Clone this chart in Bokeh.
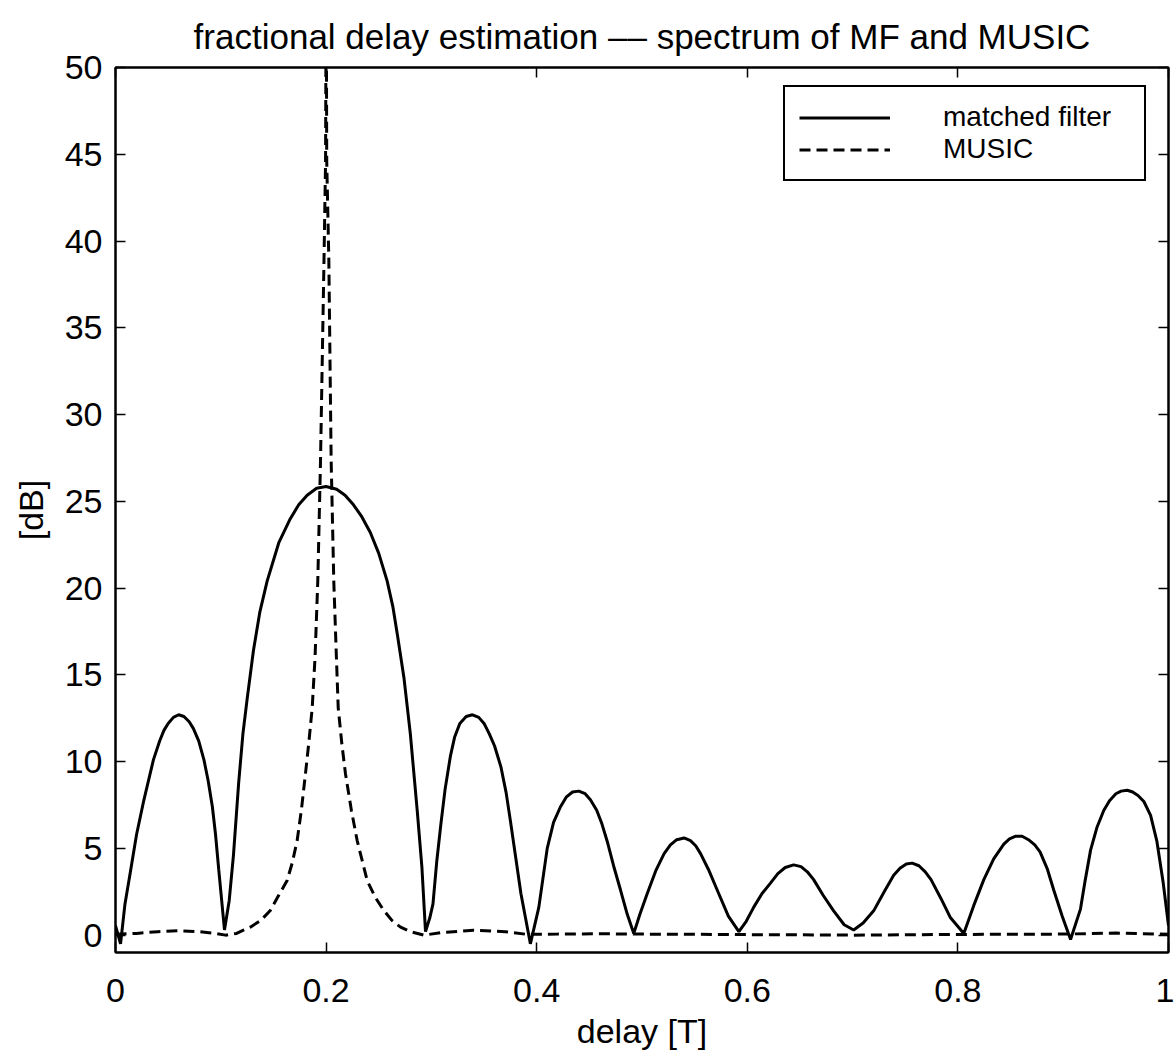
from bokeh.plotting import figure
from bokeh.models import (LinearAxis, FixedTicker, CustomJSTickFormatter, Range1d,
                          Legend, LegendItem)
from bokeh.embed import file_html
from bokeh.resources import INLINE

# ---- data ----
mf_x = [0.000, 0.0048, 0.009, 0.014, 0.020, 0.027, 0.036, 0.042, 0.046, 0.050, 0.055, 0.060, 0.065,
        0.070, 0.074, 0.079, 0.084, 0.088, 0.092, 0.095, 0.098, 0.1035,
        0.108, 0.112, 0.117, 0.121, 0.125, 0.131, 0.137, 0.144, 0.155, 0.166, 0.174, 0.182, 0.191,
        0.200, 0.210, 0.218, 0.226, 0.234, 0.242, 0.250, 0.258, 0.2635, 0.268, 0.274, 0.280, 0.2865,
        0.291, 0.2944,
        0.2985, 0.3015, 0.305, 0.309, 0.313, 0.318, 0.322, 0.327, 0.333, 0.339, 0.345, 0.350, 0.355,
        0.360, 0.366, 0.371, 0.375, 0.380, 0.385, 0.394,
        0.402, 0.410, 0.416, 0.4226, 0.428, 0.434, 0.440, 0.446, 0.451, 0.4570, 0.462, 0.467, 0.473,
        0.4796, 0.486, 0.4922,
        0.498, 0.505, 0.513, 0.521, 0.527, 0.533, 0.540, 0.546, 0.551, 0.5556, 0.563, 0.5714, 0.582, 0.592,
        0.599, 0.606, 0.614, 0.622, 0.629, 0.636, 0.644, 0.651, 0.657, 0.663, 0.672, 0.682, 0.692, 0.701,
        0.710, 0.720, 0.730, 0.739, 0.745, 0.751, 0.7566, 0.763, 0.769, 0.7745, 0.784, 0.793, 0.8056,
        0.815, 0.8246, 0.834, 0.8436, 0.849, 0.855, 0.861, 0.867, 0.873, 0.878, 0.885, 0.891, 0.899, 0.907,
        0.9164, 0.921, 0.926, 0.932, 0.9386, 0.944, 0.950, 0.955, 0.9608, 0.966, 0.971, 0.9766, 0.983,
        0.989, 0.995, 1.000]
mf_db = [0.55, -0.5, 1.8, 3.6, 5.8, 7.8, 10.1, 11.2, 11.8, 12.2, 12.55, 12.7, 12.6,
         12.3, 11.9, 11.2, 10.1, 8.9, 7.4, 5.8, 3.8, 0.3,
         2.0, 4.6, 8.8, 11.6, 13.6, 16.4, 18.6, 20.4, 22.6, 24.0, 24.8, 25.35, 25.75,
         25.85, 25.7, 25.35, 24.8, 24.1, 23.2, 22.0, 20.4, 18.9, 17.2, 14.8, 11.6, 7.2,
         3.9, 0.2,
         1.0, 1.8, 4.2, 6.4, 8.4, 10.3, 11.4, 12.2, 12.6, 12.7, 12.55, 12.2, 11.6,
         10.9, 9.7, 8.2, 6.6, 4.5, 2.4, -0.5,
         1.6, 5.0, 6.5, 7.4, 7.95, 8.25, 8.3, 8.15, 7.8, 7.2, 6.4, 5.4, 4.0,
         2.6, 1.2, 0.1,
         1.2, 2.4, 3.7, 4.7, 5.2, 5.5, 5.6, 5.45, 5.15, 4.7, 3.8, 2.6, 1.1, 0.2,
         0.8, 1.6, 2.4, 3.0, 3.55, 3.9, 4.05, 3.95, 3.65, 3.2, 2.3, 1.4, 0.6, 0.3,
         0.7, 1.4, 2.5, 3.45, 3.85, 4.1, 4.15, 4.0, 3.65, 3.2, 2.1, 1.0, 0.1,
         1.7, 3.2, 4.4, 5.25, 5.55, 5.7, 5.7, 5.5, 5.2, 4.8, 3.8, 2.6, 1.1, -0.25,
         1.5, 3.2, 4.9, 6.2, 7.2, 7.75, 8.15, 8.3, 8.35, 8.25, 8.05, 7.7, 6.9,
         5.4, 3.0, 0.55]

music_x = [0.000, 0.020, 0.040, 0.060, 0.080, 0.095, 0.1045, 0.115, 0.122, 0.128, 0.138, 0.147,
           0.155, 0.163, 0.168, 0.1725, 0.1765, 0.1804, 0.1836, 0.1868, 0.1895, 0.1921, 0.1947,
           0.198, 0.1995, 0.2001, 0.2006, 0.2026, 0.2048, 0.2073, 0.2095, 0.2115, 0.215, 0.2184,
           0.224, 0.2295, 0.239, 0.2465, 0.2548, 0.2625, 0.2707, 0.280, 0.293, 0.310, 0.340,
           0.370, 0.390, 0.420, 0.460, 0.500, 0.550, 0.600, 0.650, 0.700, 0.750, 0.800, 0.850,
           0.900, 0.950, 1.000]
music_db = [0.05, 0.10, 0.20, 0.25, 0.20, 0.10, 0.0, 0.10, 0.30, 0.46, 0.85, 1.42,
            2.3, 3.15, 4.2, 5.45, 7.2, 9.3, 11.1, 13.1, 16.0, 20.4, 27.35,
            38.9, 44.6, 56.0, 44.6, 38.9, 27.35, 20.4, 16.5, 13.1, 11.0, 9.3,
            7.2, 5.45, 3.15, 2.2, 1.42, 0.85, 0.46, 0.20, 0.0, 0.15, 0.28,
            0.20, 0.05, 0.06, 0.08, 0.06, 0.05, 0.03, 0.02, 0.0, 0.02, 0.04, 0.05,
            0.06, 0.12, 0.05]

x_ticks = [0, 0.2, 0.4, 0.6, 0.8, 1.0]
y_ticks = [0, 5, 10, 15, 20, 25, 30, 35, 40, 45, 50]

title_text = "fractional delay estimation \u2013\u2013 spectrum of MF and MUSIC"
x_label = "delay [T]"
y_label = "[dB]"
legend_labels = ["matched filter", "MUSIC"]

FONT = "Liberation Sans"

p = figure(frame_width=1053, frame_height=885,
           min_border_left=115, min_border_right=6, min_border_top=67, min_border_bottom=80,
           x_range=Range1d(0, 1), y_range=Range1d(-1, 50),
           output_backend="svg", toolbar_location=None, title=title_text)

p.title.align = "center"
p.title.text_font = FONT
p.title.text_font_size = "35px"
p.title.text_font_style = "normal"
p.title.text_color = "black"
p.title.standoff = 23

p.grid.visible = False
p.outline_line_color = "black"
p.outline_line_width = 2
p.outline_line_alpha = 1.0
p.background_fill_color = "white"
p.border_fill_color = "white"

fmt = CustomJSTickFormatter(code="return String(Math.round(tick*10)/10);")

def style_axis(ax, show_labels=True):
    ax.major_tick_in = 10
    ax.major_tick_out = 0
    ax.minor_tick_line_color = None
    ax.major_tick_line_color = "black"
    ax.major_tick_line_width = 1.5
    ax.axis_line_color = "black"
    ax.axis_line_width = 2
    ax.major_label_text_font = FONT
    ax.axis_label_text_font = FONT
    ax.axis_label_text_font_style = "normal"
    ax.axis_label_text_color = "black"
    ax.axis_label_text_font_size = "34px"
    if show_labels:
        ax.major_label_text_font_size = "34px"
        ax.major_label_text_color = "black"
    else:
        ax.major_label_text_font_size = "1px"
        ax.major_label_text_color = None
        ax.major_label_standoff = 0

xa = p.xaxis[0]
xa.ticker = FixedTicker(ticks=x_ticks)
xa.formatter = fmt
style_axis(xa)
xa.major_label_standoff = 26
xa.axis_label = x_label
xa.axis_label_standoff = 7

ya = p.yaxis[0]
ya.ticker = FixedTicker(ticks=y_ticks)
ya.formatter = fmt
style_axis(ya)
ya.major_label_standoff = 13
ya.axis_label = y_label
ya.axis_label_standoff = 12

top = LinearAxis(ticker=FixedTicker(ticks=x_ticks), formatter=fmt)
style_axis(top, show_labels=False)
p.add_layout(top, "above")
right = LinearAxis(ticker=FixedTicker(ticks=y_ticks), formatter=fmt)
style_axis(right, show_labels=False)
p.add_layout(right, "right")

r_mf = p.line(mf_x, mf_db, line_color="black", line_width=3)
r_mu = p.line(music_x, music_db, line_color="black", line_width=3, line_dash="11 6")

legend = Legend(items=[LegendItem(label=legend_labels[0], renderers=[r_mf]),
                       LegendItem(label=legend_labels[1], renderers=[r_mu])],
                location=(668, 771))
legend.border_line_color = "black"
legend.border_line_width = 2
legend.border_line_alpha = 1.0
legend.background_fill_color = "white"
legend.background_fill_alpha = 1.0
legend.label_text_font = FONT
legend.label_text_font_size = "28px"
legend.label_text_color = "black"
legend.padding = 14
legend.spacing = 0
legend.margin = 0
legend.glyph_width = 91
legend.glyph_height = 31
legend.label_height = 31
legend.label_width = 187
legend.label_standoff = 53
p.add_layout(legend)

open("out.html", "w").write(file_html(p, INLINE))
